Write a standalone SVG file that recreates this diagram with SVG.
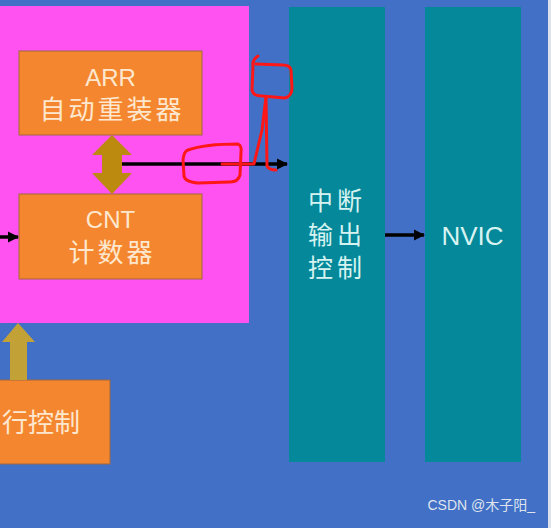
<svg xmlns="http://www.w3.org/2000/svg" width="551" height="528" viewBox="0 0 551 528">
<defs>
<style>
.box{fill:#f4862f;stroke:#a0683e;stroke-width:1}
.lbl{font-family:"Liberation Sans","Noto Sans CJK SC",sans-serif;fill:#fde8cf;text-anchor:middle}
.col{fill:#04889a}
.clbl{font-family:"Liberation Sans","Noto Sans CJK SC",sans-serif;fill:#d6f3f1;text-anchor:middle}
.wire{stroke:#000;stroke-width:3.5;fill:none}
.red{stroke:#ff1717;stroke-width:3;fill:none;stroke-linecap:round;stroke-linejoin:round}
</style>
<marker id="ah" viewBox="0 0 10 10" refX="9" refY="5" markerWidth="3.2" markerHeight="3.2" orient="auto" markerUnits="strokeWidth">
<path d="M0,0 L10,5 L0,10 z" fill="#000"/>
</marker>
</defs>
<rect x="0" y="0" width="551" height="528" fill="#4170c6"/>
<rect x="548" y="0" width="3" height="528" fill="#dde2ea"/>

<g id="timebase">
<rect x="0" y="6" width="249" height="317" fill="#ff52f0"/>
</g>

<g id="arr">
<rect class="box" x="19" y="51" width="183" height="84"/>
<text class="lbl" x="110.5" y="86" font-size="24">ARR</text>
<text class="lbl" x="112" y="119" font-size="26" letter-spacing="3">自动重装器</text>
</g>

<g id="cnt">
<rect class="box" x="19" y="194" width="183" height="85"/>
<text class="lbl" x="110.5" y="228" font-size="24">CNT</text>
<text class="lbl" x="112" y="262" font-size="26" letter-spacing="3">计数器</text>
</g>

<g id="ctrl">
<rect class="box" x="-2" y="380" width="112" height="84"/>
<text class="lbl" x="2" y="432" font-size="26" style="text-anchor:start">行控制</text>
</g>

<g id="int-out">
<rect class="col" x="289" y="7" width="96" height="455"/>
<text class="clbl" x="337" y="210" font-size="25" letter-spacing="4">中断</text>
<text class="clbl" x="337" y="244" font-size="25" letter-spacing="4">输出</text>
<text class="clbl" x="337" y="277" font-size="25" letter-spacing="4">控制</text>
</g>

<g id="nvic">
<rect class="col" x="425" y="7" width="96" height="455"/>
<text class="clbl" x="472.5" y="245" font-size="26">NVIC</text>
</g>

<g id="connectors">
<path d="M112,135 L132,155 L122,155 L122,173 L132,173 L112,194 L92,173 L102,173 L102,155 L92,155 Z" fill="#bb8a0e"/>
<path d="M18,323 L35,342 L27,342 L27,380 L10,380 L10,342 L2,342 Z" fill="#c2a236"/>
<line class="wire" x1="122" y1="164" x2="287" y2="164" marker-end="url(#ah)"/>
<line class="wire" x1="0" y1="237" x2="18" y2="237" stroke-width="3" marker-end="url(#ah)"/>
<line class="wire" x1="385" y1="235" x2="424" y2="235" marker-end="url(#ah)"/>
</g>

<g id="annotation">
<path class="red" d="M188,150 Q205,144 238,144 Q242,146 241,152 L240,175 Q238,182 230,182 L198,183 Q185,182 184,176 L183,160 Q184,151 188,150"/>
<path class="red" d="M222,164 L254,164 L262,130 L266,97"/>
<path class="red" d="M258,56 Q252,60 253,66 L252,90 Q253,96 262,96 L285,98 Q292,96 292,88 L291,70 Q290,65 283,65 L256,64"/>
<path class="red" d="M266,97 L267,166 Q269,170 276,170"/>
</g>

<text x="535" y="510" font-family="Liberation Sans,Noto Sans CJK SC,sans-serif" font-size="14" fill="#dfe4ee" text-anchor="end">CSDN @木子阳_</text>
</svg>
